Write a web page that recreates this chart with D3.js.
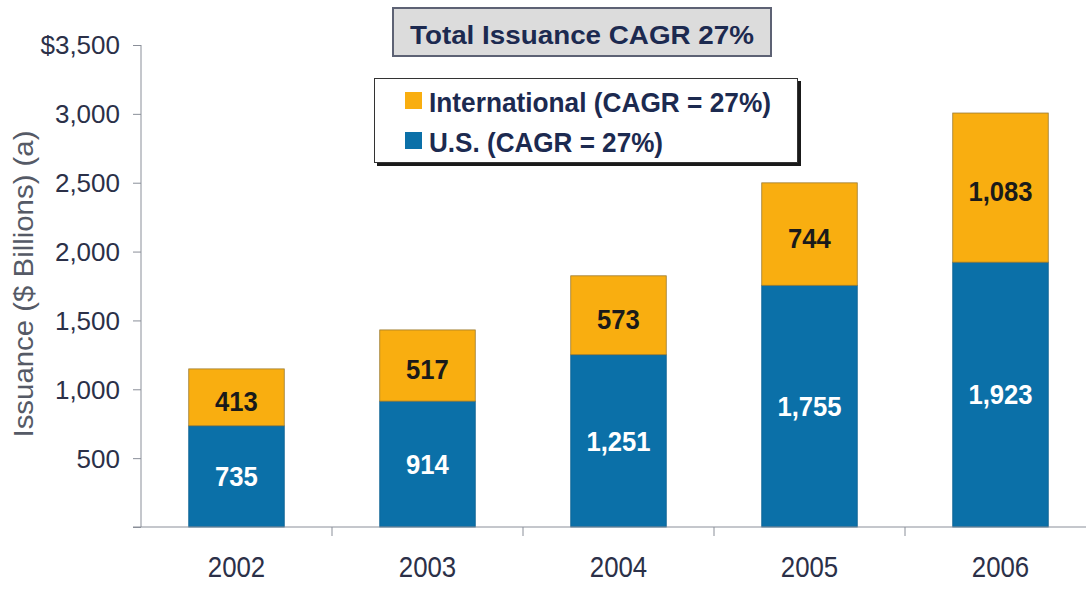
<!DOCTYPE html>
<html>
<head>
<meta charset="utf-8">
<script src="https://cdn.jsdelivr.net/npm/d3@7"></script>
<style>
  html, body { margin: 0; padding: 0; background: #ffffff; }
  svg { display: block; }
</style>
</head>
<body>
<svg id="chart" width="1086" height="590"></svg>
<script>
// ---- data ----
const years = ["2002", "2003", "2004", "2005", "2006"];
const usValues = [735, 914, 1251, 1755, 1923];
const intlValues = [413, 517, 573, 744, 1083];
const yTicks = [500, 1000, 1500, 2000, 2500, 3000, 3500];
const yTickLabels = ["500", "1,000", "1,500", "2,000", "2,500", "3,000", "$3,500"];
const seriesNames = ["International (CAGR = 27%)", "U.S. (CAGR = 27%)"];
const titleText = "Total Issuance CAGR 27%";
const yTitle = "Issuance ($ Billions) (a)";

const colors = { intl: "#F9AE10", us: "#0B70A8" };
const FONT = "'Liberation Sans', Arial, Helvetica, sans-serif";

const svg = d3.select("#chart");

const y = d3.scaleLinear().domain([0, 3500]).range([527, 45]);
const x = d3.scaleBand().domain(years).range([141, 1096]).paddingInner(0.5).paddingOuter(0.25);

// helper to condense text horizontally
function condense(sel, k) {
  sel.each(function () {
    const len = this.getComputedTextLength();
    d3.select(this).attr("textLength", len * k).attr("lengthAdjust", "spacingAndGlyphs");
  });
}

// ---- bars ----
const stacked = years.map((yr, i) => ({ year: yr, us: usValues[i], intl: intlValues[i] }));

const g = svg.append("g");
g.selectAll("rect.us").data(stacked).join("rect")
  .attr("class", "us")
  .attr("x", d => x(d.year))
  .attr("width", x.bandwidth())
  .attr("y", d => y(d.us))
  .attr("height", d => y(0) - y(d.us))
  .attr("fill", colors.us)
  .attr("stroke", "#0a5f90").attr("stroke-width", 0.8);

g.selectAll("rect.intl").data(stacked).join("rect")
  .attr("class", "intl")
  .attr("x", d => x(d.year))
  .attr("width", x.bandwidth())
  .attr("y", d => y(d.us + d.intl))
  .attr("height", d => y(d.us) - y(d.us + d.intl))
  .attr("fill", colors.intl)
  .attr("stroke", "#9a7a30").attr("stroke-width", 0.8);

const fmt = d3.format(",");
g.selectAll("text.usl").data(stacked).join("text")
  .attr("class", "usl")
  .attr("x", d => x(d.year) + x.bandwidth() / 2)
  .attr("y", d => (y(0) + y(d.us)) / 2)
  .attr("dy", "0.36em")
  .attr("text-anchor", "middle")
  .attr("font-family", FONT).attr("font-weight", "bold").attr("font-size", 27)
  .attr("fill", "#ffffff")
  .text(d => fmt(d.us))
  .call(condense, 0.95);

g.selectAll("text.intll").data(stacked).join("text")
  .attr("class", "intll")
  .attr("x", d => x(d.year) + x.bandwidth() / 2)
  .attr("y", d => (y(d.us) + y(d.us + d.intl)) / 2 + 4)
  .attr("dy", "0.36em")
  .attr("text-anchor", "middle")
  .attr("font-family", FONT).attr("font-weight", "bold").attr("font-size", 27)
  .attr("fill", "#1a1a1a")
  .text(d => fmt(d.intl))
  .call(condense, 0.95);

// ---- y axis ----
const axisColor = "#8a8f99";
const yAxis = svg.append("g").attr("transform", "translate(141,0)")
  .call(d3.axisLeft(y).tickValues([0].concat(yTicks)).tickSize(8).tickFormat(""));
yAxis.select(".domain").attr("stroke", axisColor).attr("d", "M0," + y(3500) + "V" + y(0));
yAxis.selectAll(".tick line").attr("stroke", axisColor);

svg.append("g").selectAll("text").data(yTicks).join("text")
  .attr("x", 120)
  .attr("y", d => y(d))
  .attr("dy", "0.36em")
  .attr("text-anchor", "end")
  .attr("font-family", FONT).attr("font-size", 26)
  .attr("fill", "#2b3048")
  .text((d, i) => yTickLabels[i]);

// ---- x axis ----
svg.append("line")
  .attr("x1", 133).attr("x2", 1086)
  .attr("y1", y(0)).attr("y2", y(0))
  .attr("stroke", axisColor).attr("stroke-width", 1);

const boundaries = years.slice(1).map(yr => x(yr) - x.step() * x.paddingInner() / 2 - 0 + 0)
  .map(v => v);
// category separators between bands
svg.append("g").selectAll("line").data(years.slice(1)).join("line")
  .attr("x1", d => x(d) - (x.step() - x.bandwidth()) / 2)
  .attr("x2", d => x(d) - (x.step() - x.bandwidth()) / 2)
  .attr("y1", y(0)).attr("y2", y(0) + 9)
  .attr("stroke", axisColor);

svg.append("g").selectAll("text").data(years).join("text")
  .attr("x", d => x(d) + x.bandwidth() / 2)
  .attr("y", 577)
  .attr("text-anchor", "middle")
  .attr("font-family", FONT).attr("font-size", 30)
  .attr("fill", "#2b3048")
  .text(d => d)
  .call(condense, 0.86);

// ---- y title ----
svg.append("text")
  .attr("transform", "translate(33,284) rotate(-90)")
  .attr("text-anchor", "middle")
  .attr("font-family", FONT).attr("font-size", 27)
  .attr("fill", "#555a66")
  .text(yTitle)
  .call(function (sel) {
    sel.each(function () {
      d3.select(this).attr("textLength", 307).attr("lengthAdjust", "spacingAndGlyphs");
    });
  });

// ---- title box ----
svg.append("rect")
  .attr("x", 393).attr("y", 8).attr("width", 378).attr("height", 48)
  .attr("fill", "#dcdcdc").attr("stroke", "#5d6274").attr("stroke-width", 2);
svg.append("text")
  .attr("x", 582).attr("y", 44)
  .attr("text-anchor", "middle")
  .attr("font-family", FONT).attr("font-weight", "bold").attr("font-size", 26)
  .attr("fill", "#1c2a50")
  .attr("textLength", 344).attr("lengthAdjust", "spacingAndGlyphs")
  .text(titleText);

// ---- legend box ----
svg.append("rect")
  .attr("x", 377).attr("y", 81).attr("width", 424).attr("height", 85)
  .attr("fill", "#1a1a1a");
svg.append("rect")
  .attr("x", 374.5).attr("y", 78.5).attr("width", 423).attr("height", 84)
  .attr("fill", "#ffffff").attr("stroke", "#333", null).attr("stroke-width", 1);

const legendColors = [colors.intl, colors.us];
const legendLens = [342, 234];
const lg = svg.append("g");
seriesNames.forEach((name, i) => {
  lg.append("rect")
    .attr("x", 405).attr("y", 92 + i * 40).attr("width", 17).attr("height", 17)
    .attr("fill", legendColors[i]);
  lg.append("text")
    .attr("x", 429).attr("y", 112 + i * 40)
    .attr("font-family", FONT).attr("font-weight", "bold").attr("font-size", 28)
    .attr("fill", "#1c2a50")
    .attr("textLength", legendLens[i]).attr("lengthAdjust", "spacingAndGlyphs")
    .text(name);
});
</script>
</body>
</html>
